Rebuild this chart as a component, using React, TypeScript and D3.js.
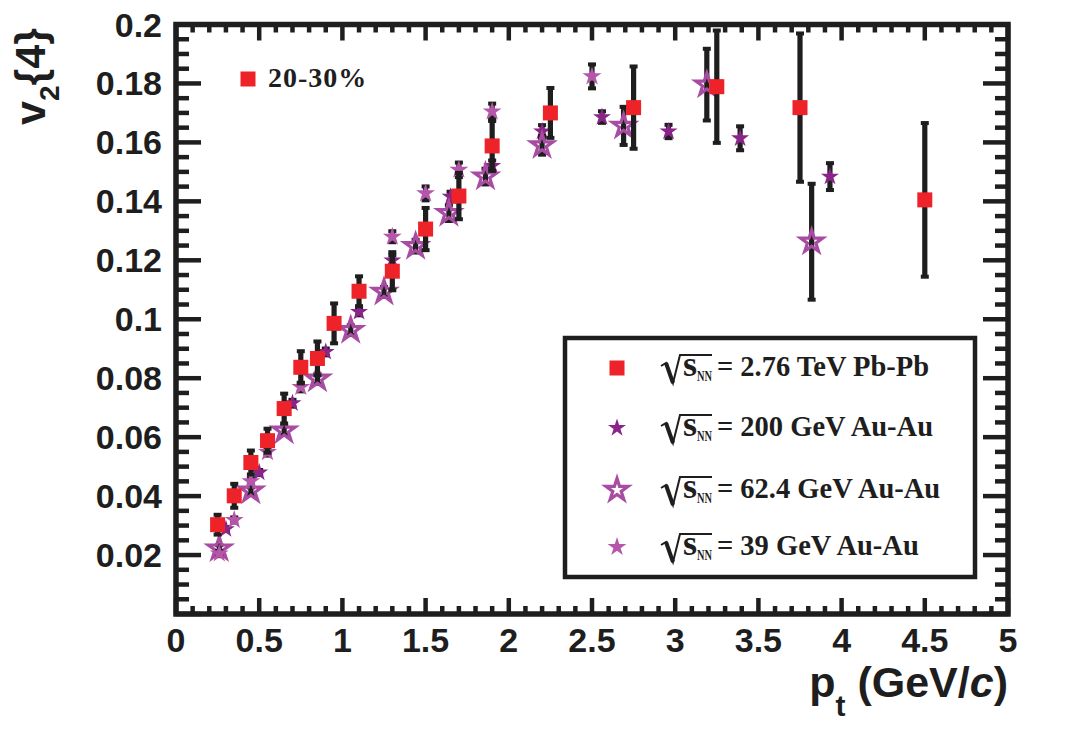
import React from "react";
import * as d3 from "d3";

// sqrt(sNN) = 2.76 TeV Pb-Pb (red squares)
const ptPbPb = [0.25, 0.35, 0.45, 0.55, 0.65, 0.75, 0.85, 0.95, 1.1, 1.3, 1.5, 1.7, 1.9, 2.25, 2.75, 3.25, 3.75, 4.5];
const v2PbPb = [0.0303, 0.0401, 0.0514, 0.0588, 0.0697, 0.0837, 0.0867, 0.0986, 0.1095, 0.1163, 0.1306, 0.1418, 0.1588, 0.17, 0.1718, 0.1789, 0.1718, 0.1405];
const errPbPb = [0.0037, 0.0044, 0.0044, 0.0044, 0.0054, 0.0058, 0.0061, 0.0071, 0.0054, 0.0068, 0.0075, 0.0082, 0.0088, 0.0088, 0.0143, 0.0194, 0.0255, 0.0264];

// 200 GeV Au-Au (small dark stars)
const pt200 = [0.3, 0.5, 0.7, 0.9, 1.1, 1.3, 1.65, 1.9, 2.2, 2.56, 2.96, 3.39, 3.93];
const v2200 = [0.0288, 0.048, 0.0715, 0.0889, 0.1025, 0.12, 0.1416, 0.152, 0.1637, 0.1686, 0.1637, 0.1614, 0.1484];
const err200 = [0.001, 0.0012, 0.0015, 0.0015, 0.0015, 0.002, 0.002, 0.0022, 0.0025, 0.0023, 0.0026, 0.0044, 0.0049];

// 62.4 GeV Au-Au (open stars)
const pt62 = [0.26, 0.45, 0.65, 0.85, 1.05, 1.25, 1.44, 1.64, 1.86, 2.2, 2.69, 3.19, 3.82];
const v262 = [0.0222, 0.0418, 0.0622, 0.0798, 0.0963, 0.1093, 0.1248, 0.136, 0.1484, 0.159, 0.1656, 0.1796, 0.1263];
const err62 = [0.0015, 0.0015, 0.0018, 0.002, 0.002, 0.002, 0.0025, 0.003, 0.003, 0.0035, 0.0068, 0.0125, 0.02];

// 39 GeV Au-Au (pink stars)
const pt39 = [0.26, 0.35, 0.45, 0.55, 0.75, 1.3, 1.5, 1.7, 1.9, 2.5];
const v239 = [0.0205, 0.0319, 0.045, 0.0549, 0.077, 0.128, 0.1427, 0.1507, 0.1705, 0.1824];
const err39 = [0.0012, 0.0012, 0.0014, 0.0015, 0.0018, 0.0022, 0.0027, 0.0028, 0.003, 0.0044];

const xTickLabels = ["0", "0.5", "1", "1.5", "2", "2.5", "3", "3.5", "4", "4.5", "5"];
const yTickLabels = ["0.02", "0.04", "0.06", "0.08", "0.1", "0.12", "0.14", "0.16", "0.18", "0.2"];

const legendLabels = ["= 2.76 TeV Pb-Pb", "= 200 GeV Au-Au", "= 62.4 GeV Au-Au", "= 39 GeV Au-Au"];

const RED = "#ee2229";
const DARK = "#8a2489";
const OPEN = "#a84ba2";
const PINK = "#b556aa";
const INK = "#1e1e1e";

const left = 176, right = 1008, top = 24.5, bottom = 614;
const x = d3.scaleLinear().domain([0, 5]).range([left, right]);
const y = d3.scaleLinear().domain([0, 0.2]).range([bottom, top]);

const star = (size: number) => d3.symbol(d3.symbolStar, size)() as string;

const sans = "'Liberation Sans', Arial, Helvetica, sans-serif";
const serif = "'Liberation Serif', 'Times New Roman', serif";

function ErrBars({ pt, v, err }: { pt: number[]; v: number[]; err: number[] }) {
  return (
    <g fill={INK}>
      {pt.map((p, i) => {
        const cx = x(p);
        const y1 = y(v[i] + err[i]);
        const y2 = y(v[i] - err[i]);
        return (
          <g key={i}>
            <rect x={cx - 2.6} y={y1} width={5.2} height={y2 - y1} />
            <rect x={cx - 4} y={y1 - 1} width={8} height={4} />
            <rect x={cx - 4} y={y2 - 3} width={8} height={4} />
          </g>
        );
      })}
    </g>
  );
}

function Marker({ kind, cx, cy }: { kind: string; cx: number; cy: number }) {
  if (kind === "square")
    return <rect x={cx - 7.5} y={cy - 7.5} width={15} height={15} fill={RED} />;
  if (kind === "dark")
    return <path d={star(100)} transform={`translate(${cx},${cy})`} fill={DARK} />;
  if (kind === "open")
    return (
      <path d={star(150)} transform={`translate(${cx},${cy})`} fill="none"
        stroke={OPEN} strokeWidth={3.2} strokeLinejoin="miter" />
    );
  return <path d={star(110)} transform={`translate(${cx},${cy})`} fill={PINK} />;
}

function Series({ pt, v, err, kind }: { pt: number[]; v: number[]; err: number[]; kind: string }) {
  return (
    <g>
      <ErrBars pt={pt} v={v} err={err} />
      {pt.map((p, i) => (
        <Marker key={i} kind={kind} cx={x(p)} cy={y(v[i])} />
      ))}
    </g>
  );
}

export default function App() {
  const xMinor = d3.range(0, 51).map((i) => i / 10);
  const yMinor = d3.range(0, 41).map((i) => i * 0.005);
  const xMajor = xTickLabels.map((t) => +t);
  const yMajor = yTickLabels.map((t) => +t);

  const legendRows = [368, 428, 490, 547];
  const legendKinds = ["square", "dark", "open", "pink"];

  return (
    <svg width={1066} height={741} style={{ position: "absolute", left: 0, top: 0, background: "#fff" }}>
      {/* ticks */}
      <g stroke={INK} strokeWidth={4.5}>
        {xMinor.map((t, i) => {
          const major = i % 5 === 0;
          const len = major ? 16 : 8;
          return (
            <g key={"xt" + i}>
              <line x1={x(t)} x2={x(t)} y1={bottom} y2={bottom - len} />
              <line x1={x(t)} x2={x(t)} y1={top} y2={top + len} />
            </g>
          );
        })}
        {yMinor.map((t, i) => {
          const major = i % 4 === 0;
          const len = major ? 25 : 13;
          return (
            <g key={"yt" + i}>
              <line x1={left} x2={left + len} y1={y(t)} y2={y(t)} />
              <line x1={right} x2={right - len} y1={y(t)} y2={y(t)} />
            </g>
          );
        })}
      </g>
      <rect x={left} y={top} width={right - left} height={bottom - top} fill="none" stroke={INK} strokeWidth={5.5} />

      {/* tick labels */}
      <g fontFamily={sans} fontWeight="bold" fontSize={34} fill={INK}>
        {xMajor.map((t, i) => (
          <text key={"xl" + i} x={x(t)} y={652} textAnchor="middle">{xTickLabels[i]}</text>
        ))}
        {yMajor.map((t, i) => (
          <text key={"yl" + i} x={162} y={y(t) + 12} textAnchor="end">{yTickLabels[i]}</text>
        ))}
      </g>

      {/* axis titles */}
      <text x={1008} y={697} textAnchor="end" fontFamily={sans} fontWeight="bold" fontSize={43} fill={INK}>
        p<tspan dy={19} fontSize={30}>t</tspan><tspan dy={-19}> (GeV/</tspan><tspan fontStyle="italic">c</tspan>)
      </text>
      <text transform="translate(45,28) rotate(-90)" textAnchor="end" fontFamily={sans} fontWeight="bold" fontSize={43} fill={INK}>
        v<tspan dy={14} fontSize={28}>2</tspan><tspan dy={-14}>{"{4}"}</tspan>
      </text>

      {/* data */}
      <Series pt={pt200} v={v2200} err={err200} kind="dark" />
      <Series pt={pt62} v={v262} err={err62} kind="open" />
      <Series pt={pt39} v={v239} err={err39} kind="pink" />
      <Series pt={ptPbPb} v={v2PbPb} err={errPbPb} kind="square" />

      {/* centrality label */}
      <rect x={240.5} y={71.5} width={15} height={15} fill={RED} />
      <text x={268} y={87} fontFamily={serif} fontWeight="bold" fontSize={28} fill={INK} letterSpacing={1}>20-30%</text>

      {/* legend */}
      <rect x={565} y={338} width={410} height={239} fill="#fff" stroke={INK} strokeWidth={4.5} />
      {legendRows.map((cy, i) => (
        <g key={"lg" + i}>
          <Marker kind={legendKinds[i]} cx={617} cy={cy} />
          <path d={`M661,${cy - 2} L666,${cy - 5} L673,${cy + 15} L680,${cy - 13} L712,${cy - 13}`}
            fill="none" stroke={INK} strokeWidth={2} strokeLinejoin="miter" />
          <path d={`M666,${cy - 5} L673,${cy + 15}`} stroke={INK} strokeWidth={4} />
          <text x={683} y={cy + 8} fontFamily={serif} fontWeight="bold" fontSize={36} fill={INK}>s</text>
          <text x={697} y={cy + 13} fontFamily={serif} fontWeight="bold" fontSize={15} fill={INK}
            textLength={15} lengthAdjust="spacingAndGlyphs">NN</text>
          <text x={717} y={cy + 8} fontFamily={serif} fontWeight="bold" fontSize={28.5} fill={INK}>{legendLabels[i]}</text>
        </g>
      ))}
    </svg>
  );
}
